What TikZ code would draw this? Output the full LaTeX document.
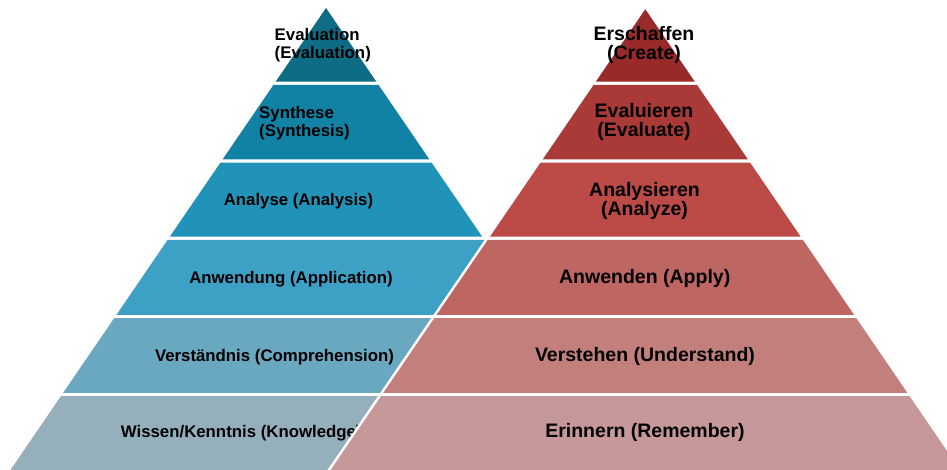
\documentclass[tikz,border=0pt]{standalone}
\usepackage{fontspec}
\setmainfont{Liberation Sans}
\begin{document}
% Two Bloom taxonomy pyramids: original (blue) and revised (red)
\definecolor{bA}{HTML}{0E6D84}
\definecolor{bB}{HTML}{1282A4}
\definecolor{bC}{HTML}{2293B8}
\definecolor{bD}{HTML}{3DA1C6}
\definecolor{bE}{HTML}{6AA7C0}
\definecolor{bF}{HTML}{95AFBC}
\definecolor{rA}{HTML}{982A2A}
\definecolor{rB}{HTML}{A93A38}
\definecolor{rC}{HTML}{BC4A46}
\definecolor{rD}{HTML}{BE6661}
\definecolor{rE}{HTML}{C27F7C}
\definecolor{rF}{HTML}{C79899}
\begin{tikzpicture}[x=1pt,y=-1pt,
  lefttext/.style={inner sep=0pt,text=black,font=\fontsize{16.8}{17.7}\selectfont\bfseries},
  righttext/.style={inner sep=0pt,text=black,align=center,font=\fontsize{19.5}{19}\selectfont\bfseries},
  seam/.style={draw=white,line width=2.4pt}]
\path[use as bounding box,clip] (0,0) rectangle (947,469);
\def\k{0.683}
% left pyramid, apex at (326,8)
\foreach \t/\b/\c in {8/81.65/bA,84.95/159.35/bB,162.65/236.65/bC,239.95/314.85/bD,318.15/392.85/bE,396.15/480/bF}
  \fill[\c] ({326-\k*(\t-8)},\t) -- ({326+\k*(\t-8)},\t) -- ({326+\k*(\b-8)},\b) -- ({326-\k*(\b-8)},\b) -- cycle;
\node[lefttext,align=left,anchor=west] (evalL) at (274.5,45.1) {Evaluation\\(Evaluation)};
\node[lefttext,align=left,anchor=west] (synL) at (259,123.4) {Synthese\\(Synthesis)};
\node[lefttext,anchor=base] (anaL) at (298.5,205) {Analyse (Analysis)};
\node[lefttext,anchor=base] (appL) at (291,283.3) {Anwendung (Application)};
\node[lefttext,anchor=base] (comL) at (274.5,361) {Verständnis (Comprehension)};
\node[lefttext,anchor=base west] (knoL) at (120.7,437.3) {Wissen/Kenntnis (Knowledge)};
% right pyramid, apex at (644.5,8), laid over the left one
\foreach \t/\b/\c in {8/81.65/rA,84.95/159.35/rB,162.65/236.65/rC,239.95/314.85/rD,318.15/392.85/rE,396.15/480/rF}
  \fill[\c] ({644.5-\k*(\t-8)},\t) -- ({644.5+\k*(\t-8)},\t) -- ({644.5+\k*(\b-8)},\b) -- ({644.5-\k*(\b-8)},\b) -- cycle;
\coordinate (apexR) at (644.5,8);
\coordinate (footR) at ({644.5-\k*472},480);
\draw[seam] (apexR) -- (footR);
\node[righttext] (creR) at (644,44.5) {Erschaffen\\(Create)};
\node[righttext] (evaR) at (644,122) {Evaluieren\\(Evaluate)};
\node[righttext] (anaR) at (644.5,200.5) {Analysieren\\(Analyze)};
\node[righttext,anchor=base] (appR) at (644.7,283.3) {Anwenden (Apply)};
\node[righttext,anchor=base] (undR) at (645,361.7) {Verstehen (Understand)};
\node[righttext,anchor=base] (remR) at (645,437.5) {Erinnern (Remember)};
\end{tikzpicture}
\end{document}
